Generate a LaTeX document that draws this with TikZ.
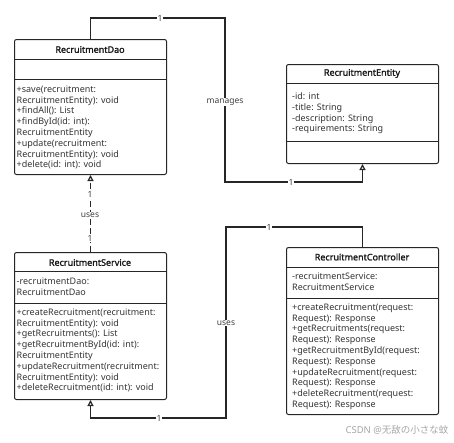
\documentclass[tikz,border=0pt]{standalone}
\usepackage{fontspec}
\setmainfont{Noto Sans}
\newfontfamily\titlefont{Noto Sans}[FakeBold=1.8]
\newfontfamily\cjkfont{Noto Sans CJK SC}
\usetikzlibrary{arrows.meta,positioning,calc}

\begin{document}
\begin{tikzpicture}[
  x=1pt,y=-1pt,
  font=\fontsize{9}{10.8}\selectfont,
  classbox/.style={draw=black!85,line width=1pt,rounded corners=2pt,minimum width=152pt,inner sep=0pt,anchor=north west},
  title/.style={font=\titlefont\fontsize{9}{10.8}\selectfont,text=black!90},
  members/.style={anchor=north west,align=left,inner sep=0pt,text=black!80},
  rule/.style={draw=black!85,line width=1pt},
  link/.style={line width=1.2pt,draw=black!85,-{Triangle[open,length=6pt,width=6pt]}},
  mult/.style={fill=white,inner sep=1pt,text=black!75,font=\fontsize{8.5}{10}\selectfont}
]
  \useasboundingbox (0,0) rectangle (454,442);

  % classes
  \node[classbox,minimum height=135pt] (dao) at (14,39) {};
  \node[title] (daoName) at (90,49.5) {RecruitmentDao};
  \draw[rule] ([yshift=-20pt]dao.north west) -- ([yshift=-20pt]dao.north east);
  \draw[rule] ([yshift=-40pt]dao.north west) -- ([yshift=-40pt]dao.north east);
  \node[members] (daoOps) at (16.5,85.5) {+save(recruitment:\\RecruitmentEntity): void\\+findAll(): List\\+findById(id: int):\\RecruitmentEntity\\+update(recruitment:\\RecruitmentEntity): void\\+delete(id: int): void};

  \node[classbox,minimum height=99pt] (entity) at (286,64) {};
  \node[title] (entityName) at (362,73.5) {RecruitmentEntity};
  \draw[rule] ([yshift=-19pt]entity.north west) -- ([yshift=-19pt]entity.north east);
  \draw[rule] ([yshift=-77pt]entity.north west) -- ([yshift=-77pt]entity.north east);
  \node[members] (entityAttrs) at (292,92.5) {-id: int\\-title: String\\-description: String\\-requirements: String};

  \node[classbox,minimum height=147pt] (service) at (14,252) {};
  \node[title] (serviceName) at (90,262.5) {RecruitmentService};
  \draw[rule] ([yshift=-19pt]service.north west) -- ([yshift=-19pt]service.north east);
  \draw[rule] ([yshift=-51pt]service.north west) -- ([yshift=-51pt]service.north east);
  \node[members] (serviceAttrs) at (16.5,277.5) {-recruitmentDao:\\RecruitmentDao};
  \node[members] (serviceOps) at (16.5,308.5) {+createRecruitment(recruitment:\\RecruitmentEntity): void\\+getRecruitments(): List\\+getRecruitmentById(id: int):\\RecruitmentEntity\\+updateRecruitment(recruitment:\\RecruitmentEntity): void\\+deleteRecruitment(id: int): void};

  \node[classbox,minimum height=167pt] (ctrl) at (286,247) {};
  \node[title] (ctrlName) at (362,257) {RecruitmentController};
  \draw[rule] ([yshift=-20pt]ctrl.north west) -- ([yshift=-20pt]ctrl.north east);
  \draw[rule] ([yshift=-51pt]ctrl.north west) -- ([yshift=-51pt]ctrl.north east);
  \node[members] (ctrlAttrs) at (292,272.5) {-recruitmentService:\\RecruitmentService};
  \node[members] (ctrlOps) at (292,303.5) {+createRecruitment(request:\\Request): Response\\+getRecruitments(request:\\Request): Response\\+getRecruitmentById(request:\\Request): Response\\+updateRecruitment(request:\\Request): Response\\+deleteRecruitment(request:\\Request): Response};

  % connectors
  \coordinate (manTop) at (225,18);
  \coordinate (manBot) at (225,182);
  \draw[link] (dao.north) |- (manTop) -- (manBot) -| (entity.south);
  \node[mult] (manA) at (160,18) {1};
  \node[mult] (manLbl) at (225,102) {manages};
  \node[mult] (manB) at (291,182) {1};

  \draw[link,dash pattern=on 6pt off 3pt] (service.north) -- (dao.south);
  \node[mult] (daoA) at (90,194) {1};
  \node[mult] (daoLbl) at (90,215) {uses};
  \node[mult] (daoB) at (90,238) {1};

  \coordinate (useTop) at (226,227);
  \coordinate (useBot) at (226,418);
  \draw[link] (ctrl.north) |- (useTop) -- (useBot) -| (service.south);
  \node[mult] (useA) at (269,227) {1};
  \node[mult] (useLbl) at (226,323) {uses};
  \node[mult] (useB) at (159,418) {1};

  \node[text=black!35,font=\fontsize{9.5}{11}\selectfont] (mark) at (397,430) {CSDN @{\cjkfont 无敌の小さな蚊}};
\end{tikzpicture}
\end{document}
